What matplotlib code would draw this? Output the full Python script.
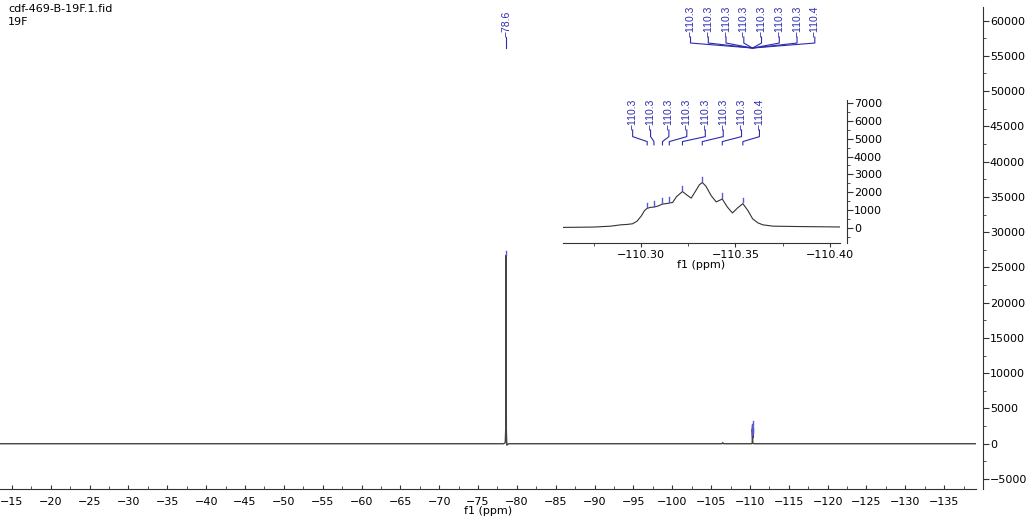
import matplotlib
matplotlib.use("Agg")
import matplotlib.pyplot as plt
from matplotlib.ticker import MultipleLocator, FuncFormatter

plt.rcParams['font.family'] = ['DejaVu Sans']

TITLE = "cdf-469-B-19F.1.fid"
NUCLEUS = "19F"

# multiplet around -110.3 ppm
inset_ppm = [-110.2588, -110.2749, -110.2839, -110.2892, -110.2928, -110.2955,
             -110.2978, -110.3000, -110.3018, -110.3032, -110.3050, -110.3068,
             -110.3090, -110.3113, -110.3131, -110.3149, -110.3167, -110.3188,
             -110.3219, -110.3242, -110.3265, -110.3287, -110.3308, -110.3324,
             -110.3344, -110.3371, -110.3398, -110.3430, -110.3457, -110.3484,
             -110.3511, -110.3539, -110.3565, -110.3591, -110.3618, -110.3645,
             -110.3699, -110.3824, -110.4004, -110.4183]
inset_int = [30, 50, 100, 175, 200, 235,
             380, 660, 975, 1100, 1155, 1170,
             1230, 1340, 1360, 1395, 1430, 1760,
             2040, 1850, 1670, 2040, 2410, 2550,
             2330, 1810, 1460, 1620, 1170, 840,
             1120, 1360, 990, 510, 290, 175,
             100, 80, 60, 40]

# full spectrum: baseline, CF3 line at -78.6, small bump, then the multiplet
main_ppm = ([-13.0, -78.3, -78.5, -78.56, -78.6, -78.64, -78.7, -78.75, -78.85,
             -79.0, -106.4, -106.5, -106.6, -110.2]
            + inset_ppm + [-110.5, -140.0])
main_int = ([0, 0, 150, 2000, 26700, 2000, -200, -150, -50,
             0, 0, 150, 0, 0]
            + inset_int + [0, 0])

# picked peaks
peak_ppm = [-110.3032, -110.3068, -110.3113, -110.3149,
            -110.3219, -110.3324, -110.3430, -110.3539]
peak_int = [1100, 1170, 1340, 1395, 2040, 2550, 1620, 1360]
peak_labels = ["\u2212110.3"] * 7 + ["\u2212110.4"]

# label positions of the multiplet (main plot, ppm) and in the inset
main_label_ppm = [-102.35, -104.64, -106.92, -109.21, -111.49, -113.78, -116.06, -118.35]
multiplet_center = -110.33
inset_label_ppm = [-110.2955, -110.3050, -110.3147, -110.3242,
                   -110.3340, -110.3435, -110.3532, -110.3627]

single_ppm = -78.6
single_int = 26700
single_label = "\u221278.6"

LINE = '#444444'
BLUE = '#2b2bb0'
MARK = '#5a5ad0'
LABEL_FONT = ['Liberation Sans', 'DejaVu Sans']

fig = plt.figure(figsize=(10.35, 5.18), dpi=100)
ax = fig.add_axes([0.0, 0.056, 0.943, 0.9305])

ax.plot(main_ppm, main_int, color=LINE, lw=1.0)
ax.set_xlim(-13.46, -139.1)
ax.set_ylim(-6420, 61930)

for s in ['top', 'left']:
    ax.spines[s].set_visible(False)
ax.spines['right'].set_position(('outward', 5))
for s in ['right', 'bottom']:
    ax.spines[s].set_color('#333333')
    ax.spines[s].set_linewidth(0.8)

ax.yaxis.tick_right()
ax.xaxis.set_major_locator(MultipleLocator(5))
ax.xaxis.set_minor_locator(MultipleLocator(2.5))
ax.yaxis.set_major_locator(MultipleLocator(5000))
ax.yaxis.set_minor_locator(MultipleLocator(2500))
ax.tick_params(axis='x', which='major', direction='in', length=3, labelsize=8, pad=6, color='#333333')
ax.tick_params(axis='x', which='minor', direction='in', length=2, color='#333333')
ax.tick_params(axis='y', which='major', direction='out', length=4, labelsize=8, pad=1, color='#333333')
ax.tick_params(axis='y', which='minor', direction='out', length=2, color='#333333')
ax.set_xlabel("f1 (ppm)", fontsize=8, labelpad=-1)

# peak markers in main view
ax.plot([single_ppm, single_ppm], [single_int + 50, single_int + 600], color=MARK, lw=1.0)
for p, v in zip(peak_ppm, peak_int):
    ax.plot([p, p], [v + 100, v + 700], color=MARK, lw=1.0)

# label of the single line
ax.text(single_ppm, 57670, single_label, rotation=90, ha='center', va='bottom',
        fontsize=7.5, color=BLUE, family=LABEL_FONT)
ax.plot([single_ppm, single_ppm], [57670, 56110], color=BLUE, lw=0.8)

# multiplet labels with bracket
for xl, lab in zip(main_label_ppm, peak_labels):
    ax.text(xl, 57670, lab, rotation=90, ha='center', va='bottom',
            fontsize=7.5, color=BLUE, family=LABEL_FONT)
    ax.plot([xl, xl, multiplet_center], [57670, 56820, 56110], color=BLUE, lw=0.8)

# inset
ins = fig.add_axes([0.544, 0.531, 0.2676, 0.276])
ins.plot(inset_ppm, inset_int, color='#333333', lw=0.8)
ins.set_xlim(-110.2586, -110.4054)
ins.set_ylim(-840, 7170)
ins.patch.set_alpha(0)
for s in ['top', 'left']:
    ins.spines[s].set_visible(False)
ins.spines['right'].set_position(('outward', 5))
for s in ['right', 'bottom']:
    ins.spines[s].set_color('#333333')
    ins.spines[s].set_linewidth(0.8)
ins.yaxis.tick_right()
ins.xaxis.set_major_locator(MultipleLocator(0.05))
ins.xaxis.set_minor_locator(MultipleLocator(0.025))
ins.xaxis.set_major_formatter(FuncFormatter(lambda v, pos: f"{v:.2f}".replace("-", "\u2212")))
ins.yaxis.set_major_locator(MultipleLocator(1000))
ins.yaxis.set_minor_locator(MultipleLocator(500))
ins.tick_params(axis='x', which='major', direction='out', length=3, labelsize=8, pad=2, color='#333333')
ins.tick_params(axis='x', which='minor', direction='out', length=2, color='#333333')
ins.tick_params(axis='y', which='major', direction='out', length=4, labelsize=8, pad=1, color='#333333')
ins.tick_params(axis='y', which='minor', direction='out', length=2, color='#333333')
ins.set_xlabel("f1 (ppm)", fontsize=8, labelpad=0)

for p, v in zip(peak_ppm, peak_int):
    ins.plot([p, p], [v + 80, v + 320], color=MARK, lw=1.0)

for xl, p, lab in zip(inset_label_ppm, peak_ppm, peak_labels):
    ins.text(xl, 5490, lab, rotation=90, ha='center', va='bottom',
             fontsize=7.5, color=BLUE, family=LABEL_FONT)
    ins.plot([xl, xl, p, p], [5490, 5117, 4838, 4654], color=BLUE, lw=0.8)

fig.text(0.008, 0.992, TITLE, fontsize=8, va='top', ha='left')
fig.text(0.008, 0.968, NUCLEUS, fontsize=8, va='top', ha='left')

fig.savefig("out.png", dpi=100)
